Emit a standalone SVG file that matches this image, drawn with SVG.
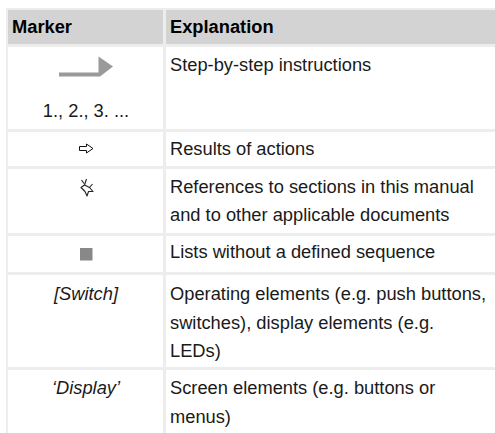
<svg xmlns="http://www.w3.org/2000/svg" width="495" height="433" viewBox="0 0 495 433">
<style>
.t{font-family:"Liberation Sans",Arial,sans-serif;font-size:18.3px;fill:#1a1a1a}
.h{font-weight:bold;fill:#000}
.c{text-anchor:middle}
.i{font-style:italic}
.cell{fill:#fff}
.hd{fill:#d3d3d3}
</style>
<rect width="495" height="433" fill="#fff"/>
<rect x="6" y="8" width="489" height="425" fill="#ededed"/>
<g id="header">
<rect class="hd" x="8" y="10" width="155" height="34"/>
<rect class="hd" x="166" y="10" width="329" height="34"/>
<text class="t h" x="12" y="33">Marker</text>
<text class="t h" x="170" y="33">Explanation</text>
</g>
<g id="row-steps">
<rect class="cell" x="8" y="47" width="155" height="82"/>
<rect class="cell" x="166" y="47" width="329" height="82"/>
<path d="M59 72.5 H98.5 V56.5 L113 66.5 L100 76.5 H59 Z" fill="#9a9a9a"/>
<text class="t c" x="86" y="117">1., 2., 3. ...</text>
<text class="t" x="170" y="71">Step-by-step instructions</text>
</g>
<g id="row-results">
<rect class="cell" x="8" y="132" width="155" height="34"/>
<rect class="cell" x="166" y="132" width="329" height="34"/>
<path d="M79.5 146.5 H86.5 V144 L93 148.5 L86.5 153 V150.5 H79.5 Z" fill="#fff" stroke="#111" stroke-width="1"/>
<text class="t" x="170" y="155">Results of actions</text>
</g>
<g id="row-references">
<rect class="cell" x="8" y="169" width="155" height="64"/>
<rect class="cell" x="166" y="169" width="329" height="64"/>
<path d="M81.5 180 L84 183.5 M86.5 179 L84.5 185 L81 187.5 L85 191.5 L87 196 L88.5 191.5 L93 191.5 L89.5 187.5 L92.5 184 M84.5 185 L89.5 187.5" fill="none" stroke="#222" stroke-width="1.1" stroke-linejoin="round"/>
<text class="t" x="170" y="193">References to sections in this manual</text>
<text class="t" x="170" y="221">and to other applicable documents</text>
</g>
<g id="row-lists">
<rect class="cell" x="8" y="236" width="155" height="36"/>
<rect class="cell" x="166" y="236" width="329" height="36"/>
<rect x="80" y="248" width="12.5" height="12.5" fill="#888"/>
<text class="t" x="170" y="258">Lists without a defined sequence</text>
</g>
<g id="row-switch">
<rect class="cell" x="8" y="275" width="155" height="92"/>
<rect class="cell" x="166" y="275" width="329" height="92"/>
<text class="t c i" x="86" y="300">[Switch]</text>
<text class="t" x="170" y="300">Operating elements (e.g. push buttons,</text>
<text class="t" x="170" y="328.5">switches), display elements (e.g.</text>
<text class="t" x="170" y="357">LEDs)</text>
</g>
<g id="row-display">
<rect class="cell" x="8" y="370" width="155" height="63"/>
<rect class="cell" x="166" y="370" width="329" height="63"/>
<text class="t c i" x="86" y="394">‘Display’</text>
<text class="t" x="170" y="394">Screen elements (e.g. buttons or</text>
<text class="t" x="170" y="423">menus)</text>
</g>
<g id="connectors"></g>
</svg>
